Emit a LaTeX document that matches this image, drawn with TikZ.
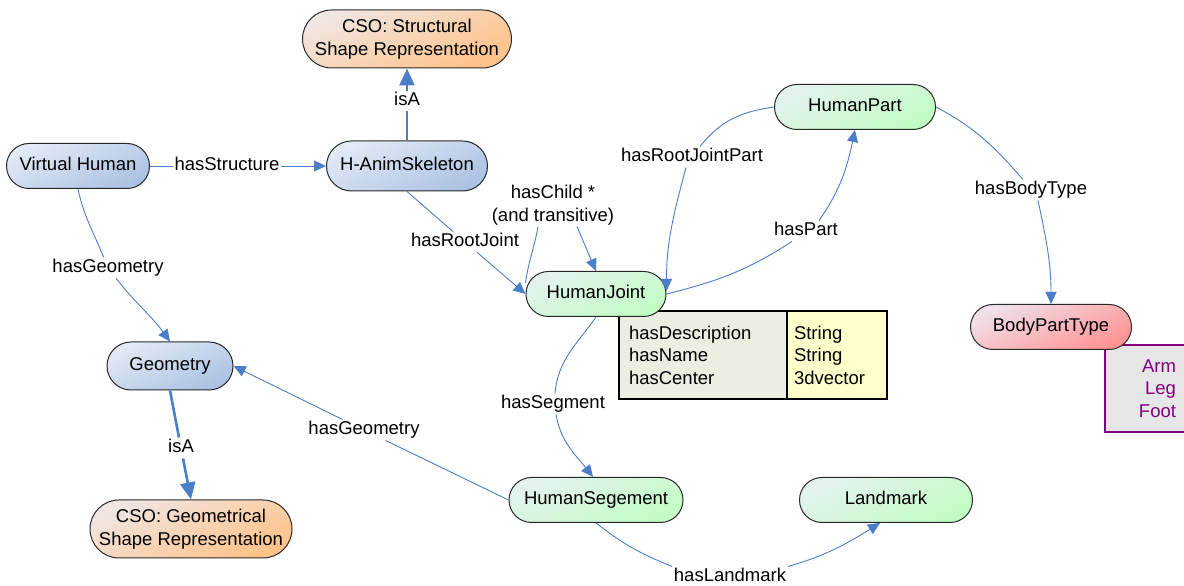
\documentclass[tikz,border=0pt]{standalone}
\usepackage{fontspec}
\setmainfont{Liberation Sans}
\usetikzlibrary{arrows.meta}

\definecolor{edgeblue}{RGB}{74,126,200}
\definecolor{nodeline}{RGB}{40,40,40}
\definecolor{bluelt}{RGB}{226,234,245}
\definecolor{bluedk}{RGB}{172,194,226}
\definecolor{greenlt}{RGB}{228,242,238}
\definecolor{greendk}{RGB}{194,252,196}
\definecolor{orangelt}{RGB}{240,230,226}
\definecolor{orangedk}{RGB}{255,194,136}
\definecolor{redlt}{RGB}{240,224,234}
\definecolor{reddk}{RGB}{255,148,148}
\definecolor{attrfill}{RGB}{236,238,226}
\definecolor{typefill}{RGB}{255,255,204}
\definecolor{enumfill}{RGB}{230,230,230}
\definecolor{enumline}{RGB}{128,0,128}

\begin{document}
\begin{tikzpicture}[x=1pt,y=1pt,
  font=\fontsize{18.5}{22.5}\selectfont,
  pill/.style={rectangle, draw=nodeline, line width=1pt, inner sep=0pt, align=center},
  oneline/.style={text height=13.5pt, text depth=4pt},
  bluepill/.style={pill, top color=bluelt, bottom color=bluedk, shading angle=25},
  greenpill/.style={pill, top color=greenlt, bottom color=greendk, shading angle=25},
  orangepill/.style={pill, top color=orangelt, bottom color=orangedk, shading angle=25},
  redpill/.style={pill, top color=redlt, bottom color=reddk, shading angle=25},
  propbox/.style={rectangle, draw=black, line width=1.2pt, inner ysep=0pt, align=left, minimum height=88pt},
  lbl/.style={inner sep=1.5pt, text height=13.5pt, text depth=4pt},
  edge/.style={draw=edgeblue, line width=0.9pt},
  arr/.style={edge, -{Triangle[length=12pt,width=11pt]}},
  isa/.style={draw=edgeblue, line width=2.6pt},
  isaarr/.style={isa, -{Triangle[length=17pt,width=15pt]}},
]
\useasboundingbox (0,0) rectangle (1184,586);
\fill[white] (0,0) rectangle (1184,586);

% attribute table of HumanJoint and value list of BodyPartType
\node[propbox, fill=attrfill, text width=148pt, inner xsep=10pt] (attrs) at (703,231) {hasDescription\\hasName\\hasCenter};
\node[propbox, fill=typefill, text width=86pt, inner xsep=7pt] (types) at (837,231) {String\\String\\3dvector};
\node[rectangle, draw=enumline, line width=1.2pt, fill=enumfill, text=enumline, align=right,
      text width=55pt, inner xsep=16pt, inner ysep=0pt, minimum height=87pt] (enum) at (1148.5,197.5) {Arm\\Leg\\Foot};

% concepts
\node[orangepill, minimum width=209pt, minimum height=58pt, rounded corners=29pt] (cso1) at (407,547) {CSO: Structural\\Shape Representation};
\node[bluepill, oneline, minimum width=143pt, minimum height=45pt, rounded corners=22.5pt] (vh) at (78,420) {Virtual Human};
\node[bluepill, oneline, minimum width=161pt, minimum height=50pt, rounded corners=25pt] (hanim) at (407,420) {H-AnimSkeleton};
\node[greenpill, oneline, minimum width=161pt, minimum height=45pt, rounded corners=22.5pt] (hpart) at (855,479) {HumanPart};
\node[greenpill, oneline, minimum width=140pt, minimum height=45pt, rounded corners=22.5pt] (hjoint) at (596,292) {HumanJoint};
\node[redpill, oneline, minimum width=161pt, minimum height=45pt, rounded corners=22.5pt] (bpt) at (1051,259) {BodyPartType};
\node[bluepill, oneline, minimum width=126pt, minimum height=48pt, rounded corners=24pt] (geom) at (170,220) {Geometry};
\node[orangepill, minimum width=202pt, minimum height=58pt, rounded corners=29pt] (cso2) at (191,57) {CSO: Geometrical\\Shape Representation};
\node[greenpill, oneline, minimum width=174pt, minimum height=45pt, rounded corners=22.5pt] (hseg) at (596,86) {HumanSegement};
\node[greenpill, oneline, minimum width=173pt, minimum height=45pt, rounded corners=22.5pt] (lmark) at (886,86) {Landmark};

% relation labels
\node[lbl] (lStruct) at (227,420) {hasStructure};
\node[lbl] (lIsA1) at (407,485) {isA};
\node[lbl] (lGeo1) at (108,318) {hasGeometry};
\node[lbl] (lRoot) at (465,344) {hasRootJoint};
\node[inner sep=1.5pt, align=center] (lChild) at (553,381) {hasChild *\\(and transitive)};
\node[lbl] (lRJP) at (692,429) {hasRootJointPart};
\node[lbl] (lPart) at (806,355) {hasPart};
\node[lbl] (lBody) at (1031,396) {hasBodyType};
\node[lbl] (lSeg) at (553,182) {hasSegment};
\node[lbl] (lGeo2) at (364,156) {hasGeometry};
\node[lbl] (lIsA2) at (181,138) {isA};
\node[lbl] (lLand) at (730,9) {hasLandmark};

% hasStructure
\draw[edge] (vh) -- (lStruct);
\draw[arr] (lStruct) -- (hanim);
% isA (skeleton)
\draw[isa] (hanim) -- (lIsA1);
\draw[isaarr] (lIsA1) -- (cso1);
% hasGeometry (virtual human)
\draw[edge] (vh.south) to[out=-78,in=112] (lGeo1);
\draw[arr] (lGeo1) to[out=-52,in=126] (geom.north);
% hasRootJoint
\draw[edge] (hanim.south) -- (lRoot);
\draw[arr] (lRoot) -- (hjoint.west);
% hasChild loop
\draw[edge] (hjoint.171) to[out=82,in=-100] ([xshift=-15pt]lChild.south);
\draw[arr] ([xshift=24pt]lChild.south) -- (hjoint.north);
% hasRootJointPart
\draw[edge] (hpart.west) to[out=188,in=52] ([xshift=8pt]lRJP.north);
\draw[arr] ([xshift=-6pt]lRJP.south) to[out=-105,in=90] ([yshift=3pt]hjoint.east);
% hasPart
\draw[edge] (hjoint.east) to[out=14,in=213] ([xshift=-14pt]lPart.south);
\draw[arr] ([xshift=13pt]lPart.north) to[out=55,in=-102] (hpart.south);
% hasBodyType
\draw[edge] (hpart.east) to[out=-28,in=131] ([xshift=-8pt]lBody.north);
\draw[arr] ([xshift=7pt]lBody.south) to[out=-78,in=90] (bpt.north);
% hasSegment
\draw[edge] (hjoint.south) to[out=-125,in=85] ([xshift=2pt]lSeg.north);
\draw[arr] ([xshift=3pt]lSeg.south) to[out=-80,in=128] ([xshift=-3pt]hseg.north);
% hasGeometry (segment)
\draw[edge] (hseg.west) -- (lGeo2);
\draw[arr] (lGeo2) -- (geom.east);
% isA (geometry)
\draw[isa] (geom.south) -- (lIsA2);
\draw[isaarr] (lIsA2) -- (cso2.north);
% hasLandmark
\draw[edge] (hseg.south) to[out=-38,in=158] (lLand.north west);
\draw[arr] (lLand.north east) to[out=16,in=212] ([xshift=-6pt]lmark.south);
\end{tikzpicture}
\end{document}
